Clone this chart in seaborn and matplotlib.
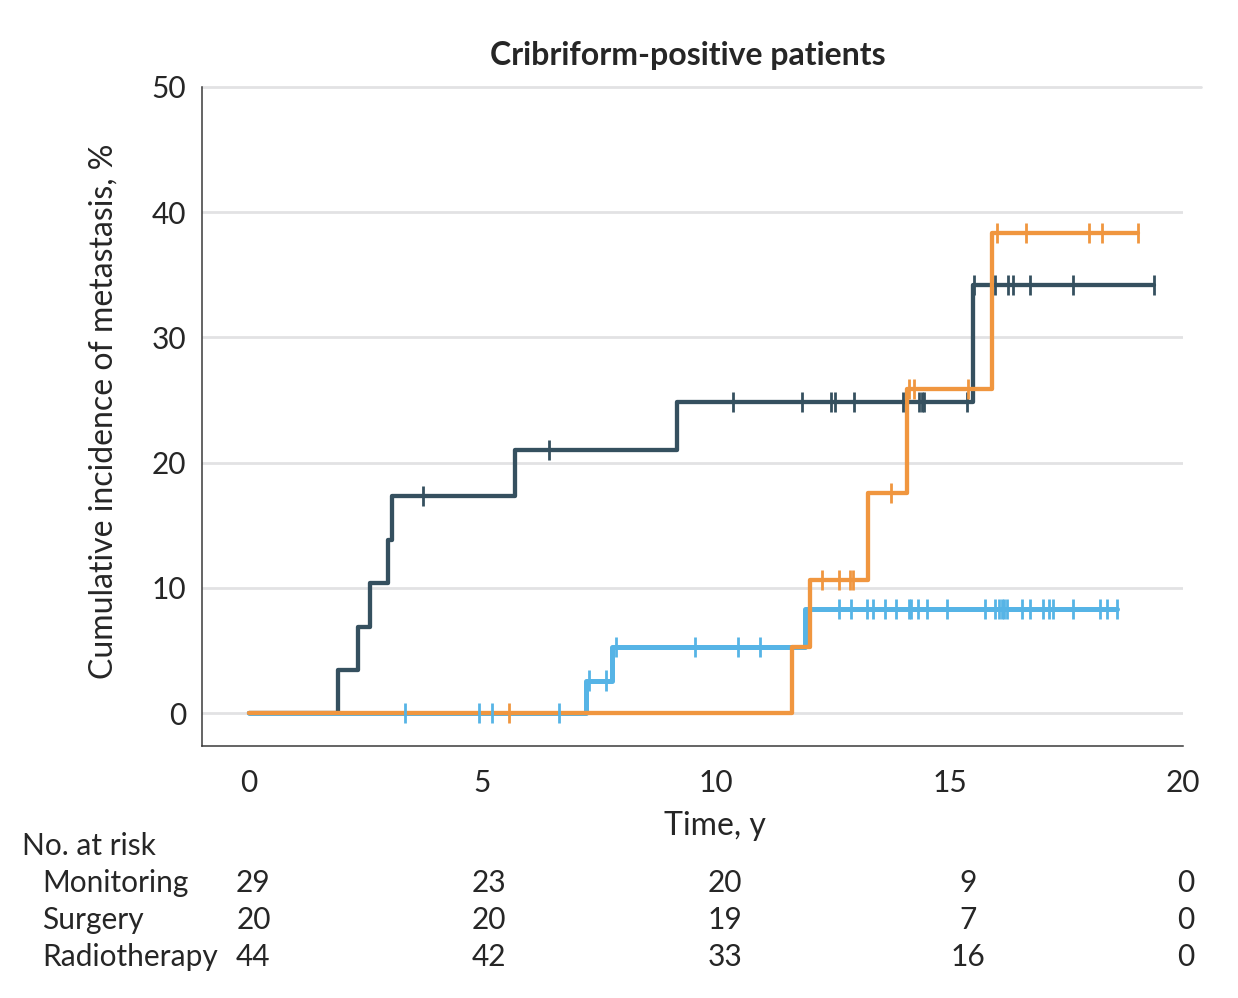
import seaborn as sns
import matplotlib.pyplot as plt
import matplotlib.transforms as mtransforms
import pandas as pd
import numpy as np

# Step curves: event times (y) and cumulative incidence (%)
mon_times = [0, 1.90, 2.34, 2.59, 2.98, 3.07, 5.70, 9.16, 15.51]
mon_cuminc = [0, 3.45, 6.9, 10.35, 13.8, 17.3, 21.0, 24.8, 34.2]
mon_end = 19.37
mon_censor = [3.73, 6.43, 10.37, 11.85, 12.46, 12.55, 12.96, 14.0, 14.35, 14.42,
              14.45, 15.37, 15.53, 15.98, 16.25, 16.35, 16.72, 17.64, 19.37]

surg_times = [0, 11.62, 12.01, 13.26, 14.10, 15.90]
surg_cuminc = [0, 5.3, 10.6, 17.6, 25.9, 38.3]
surg_end = 19.04
surg_censor = [5.57, 12.28, 12.64, 12.87, 12.93, 13.75, 14.14, 14.24, 15.40,
               16.02, 16.63, 17.99, 18.27, 19.04]

rt_times = [0, 7.22, 7.78, 11.91]
rt_cuminc = [0, 2.6, 5.3, 8.3]
rt_end = 18.58
rt_censor = [3.35, 4.93, 5.21, 6.64, 7.29, 7.64, 7.86, 9.55, 10.48, 10.94, 12.64,
             12.90, 13.23, 13.37, 13.63, 13.85, 14.13, 14.18, 14.33, 14.51, 14.95,
             15.77, 15.97, 16.06, 16.12, 16.17, 16.24, 16.55, 16.72, 17.01, 17.14,
             17.22, 17.64, 18.22, 18.38, 18.58]

# Number at risk table
risk_times = [0, 5, 10, 15, 20]
risk_groups = ['Monitoring', 'Surgery', 'Radiotherapy']
risk_mon = [29, 23, 20, 9, 0]
risk_surg = [20, 20, 19, 7, 0]
risk_rt = [44, 42, 33, 16, 0]

colors = {'Monitoring': '#35505f', 'Surgery': '#f0963f', 'Radiotherapy': '#56b4e6'}
draw_order = ['Monitoring', 'Radiotherapy', 'Surgery']

curves = {
    'Monitoring': (mon_times, mon_cuminc, mon_end, mon_censor),
    'Surgery': (surg_times, surg_cuminc, surg_end, surg_censor),
    'Radiotherapy': (rt_times, rt_cuminc, rt_end, rt_censor),
}

step_rows = []
cens_rows = []
for grp, (t, v, end, cens) in curves.items():
    for ti, vi in zip(list(t) + [end], list(v) + [v[-1]]):
        step_rows.append({'Group': grp, 'Time': ti, 'CumInc': vi})
    for c in cens:
        idx = np.searchsorted(t, c, side='right') - 1
        cens_rows.append({'Group': grp, 'Time': c, 'CumInc': v[idx]})
steps = pd.DataFrame(step_rows)
censored = pd.DataFrame(cens_rows)

sns.set_style("white")
plt.rcParams['font.family'] = ['Lato', 'DejaVu Sans']
text_color = '#262626'

fig = plt.figure(figsize=(12.38, 9.98), dpi=100)
ax = fig.add_axes([0.1632, 0.2528, 0.7924, 0.6603])

# gridlines (the top one runs a little past the axis end)
for gy in [0, 10, 20, 30, 40]:
    ax.axhline(gy, color='#e2e2e4', lw=2, zorder=0)
ax.axhline(50, xmax=1.018, color='#e2e2e4', lw=2, zorder=0, clip_on=False)

for grp in draw_order:
    sub = steps[steps['Group'] == grp]
    sns.lineplot(data=sub, x='Time', y='CumInc', color=colors[grp],
                 estimator=None, sort=False, drawstyle='steps-post',
                 linewidth=3.6 if grp == 'Radiotherapy' else 3.1, ax=ax,
                 legend=False)

sns.scatterplot(data=censored, x='Time', y='CumInc', hue='Group',
                hue_order=draw_order, palette=colors, marker='|', s=210,
                linewidth=2, legend=False, ax=ax, zorder=4)

ax.set_xlim(-1.0, 20)
ax.set_ylim(-2.6, 50)
ax.set_xticks(risk_times)
ax.set_yticks([0, 10, 20, 30, 40, 50])
ax.set_xlabel('')
ax.set_ylabel('')
ax.tick_params(axis='both', direction='out', length=7.5, width=1.1,
               color='#3a3a3a', labelsize=21.5, labelcolor=text_color)
ax.tick_params(axis='x', pad=9)
ax.tick_params(axis='y', pad=4)
sns.despine(ax=ax)
for side in ['left', 'bottom']:
    ax.spines[side].set_color('#3a3a3a')
    ax.spines[side].set_linewidth(1.1)

fig.text(688 / 1238, 1 - 55 / 998, 'Cribriform-positive patients',
         ha='center', va='center', fontsize=23, fontweight='bold', color=text_color)
fig.text(104 / 1238, 1 - 411 / 998, 'Cumulative incidence of metastasis, %',
         ha='center', va='center', rotation=90, fontsize=23, color=text_color)
fig.text(715 / 1238, 1 - 826 / 998, 'Time, y', ha='center', va='center',
         fontsize=23, color=text_color)

# number at risk table
fig.text(22 / 1238, 1 - 846 / 998, 'No. at risk', ha='left', va='center',
         fontsize=21.5, color=text_color)
trans = mtransforms.blended_transform_factory(ax.transData, fig.transFigure)
col_x = [0.1, 5.15, 10.2, 15.4, 20.05]
row_y = [883, 920, 957]
for grp, counts, ry in zip(risk_groups, [risk_mon, risk_surg, risk_rt], row_y):
    fig.text(42 / 1238, 1 - ry / 998, grp, ha='left', va='center',
             fontsize=21.5, color=text_color)
    for cx, n in zip(col_x, counts):
        ax.text(cx, 1 - ry / 998, str(n), transform=trans, ha='center',
                va='center', fontsize=21.5, color=text_color)

plt.savefig('out.png', dpi=100, facecolor='white')
